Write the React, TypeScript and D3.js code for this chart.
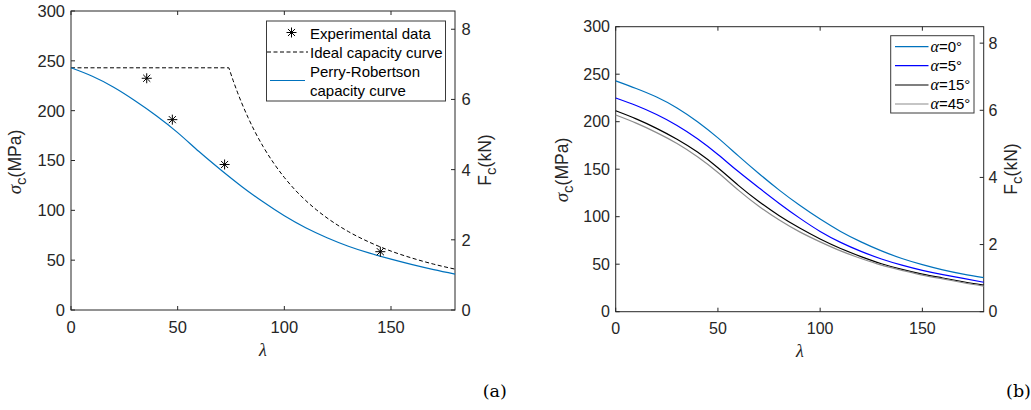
import React from "react";
import * as d3 from "d3";

// ---------- data ----------
const lambdaGrid = [0, 10, 20, 30, 40, 50, 60, 70, 80, 90, 100, 110, 120, 130, 140, 150, 160, 170, 180];

// panel (a)
const prSigma = [243, 234.5, 223.5, 210, 195, 178, 159, 141, 124, 108.5, 94.5, 82.5, 72.5, 64, 57, 51, 45.5, 40.5, 36];
const idealLambda = [0, 74, 76, 78, 80, 83, 86, 90, 95, 100, 105, 110, 115, 120, 130, 140, 150, 160, 170, 180];
const idealSigma = [243, 243, 230.3, 218.6, 207.8, 193.1, 179.8, 164.2, 147.4, 133, 120.6, 109.9, 100.6, 92.4, 78.7, 67.9, 59.1, 52, 46, 41];
const expLambda = [35.5, 47.5, 72, 145];
const expSigma = [232.5, 191, 146, 58.5];

// panel (b)
const alphaLabels = ["0", "5", "15", "45"];
const alpha0 = [243, 235, 226, 214.5, 200, 183, 164, 145.5, 128, 112, 97.5, 84.5, 73.5, 64, 56, 49.5, 44, 39.5, 35.8];
const alpha5 = [225, 217, 207.5, 196, 182, 165.5, 147.5, 130.5, 114, 98.5, 84.5, 73, 63.5, 55.5, 49, 43.5, 39, 35, 31];
const alpha15 = [211.5, 203, 193, 181.5, 168, 151.5, 133, 116, 101, 88, 76.5, 66.5, 58, 50.5, 44.5, 39.5, 35.5, 31.5, 28];
const alpha45 = [207, 198.5, 188.5, 177, 163, 146.5, 128, 111, 96.5, 84, 73.5, 64, 56, 49, 43.5, 38.5, 34.5, 30.5, 27];
const alphaColors = ["#0072BD", "#0000FF", "#000000", "#8C8C8C"];

const xTicks = [0, 50, 100, 150];
const yTicks = [0, 50, 100, 150, 200, 250, 300];
const fTicks = [0, 2, 4, 6, 8];

const SANS = "'Liberation Sans', Arial, Helvetica, sans-serif";
const SERIF = "'Liberation Serif', 'Times New Roman', serif";
const AX = "#262626";

type Box = { x0: number; x1: number; y0: number; y1: number; fMax: number; fs: number; lGap: number; rGap: number };

function Axes({ b, xs, ys, fs }: { b: Box; xs: d3.ScaleLinear<number, number>; ys: d3.ScaleLinear<number, number>; fs: d3.ScaleLinear<number, number> }) {
  const tl = 4;
  return (
    <g>
      <rect x={b.x0} y={b.y0} width={b.x1 - b.x0} height={b.y1 - b.y0} fill="none" stroke={AX} strokeWidth={1} />
      {xTicks.map((t) => (
        <g key={"x" + t}>
          <line x1={xs(t)} x2={xs(t)} y1={b.y1} y2={b.y1 - tl} stroke={AX} />
          <line x1={xs(t)} x2={xs(t)} y1={b.y0} y2={b.y0 + tl} stroke={AX} />
          <text x={xs(t)} y={b.y1 + 22.5} textAnchor="middle" fontFamily={SANS} fontSize={b.fs} fill={AX}>{t}</text>
        </g>
      ))}
      {yTicks.map((t) => (
        <g key={"y" + t}>
          <line x1={b.x0} x2={b.x0 + tl} y1={ys(t)} y2={ys(t)} stroke={AX} />
          <text x={b.x0 - b.lGap} y={ys(t)} dy="0.36em" textAnchor="end" fontFamily={SANS} fontSize={b.fs} fill={AX}>{t}</text>
        </g>
      ))}
      {fTicks.map((t) => (
        <g key={"f" + t}>
          <line x1={b.x1} x2={b.x1 - tl} y1={fs(t)} y2={fs(t)} stroke={AX} />
          <text x={b.x1 + b.rGap} y={fs(t)} dy="0.36em" textAnchor="start" fontFamily={SANS} fontSize={b.fs} fill={AX}>{t}</text>
        </g>
      ))}
    </g>
  );
}

function SigmaLabel({ x, y }: { x: number; y: number }) {
  return (
    <text transform={`translate(${x},${y}) rotate(-90)`} textAnchor="middle" fontFamily={SANS} fontSize={17.5} fill={AX}>
      <tspan fontFamily={SERIF} fontStyle="italic" fontSize={19}>σ</tspan>
      <tspan dy={5} fontSize={15}>c</tspan>
      <tspan dy={-5}>(MPa)</tspan>
    </text>
  );
}

function FLabel({ x, y }: { x: number; y: number }) {
  return (
    <text transform={`translate(${x},${y}) rotate(-90)`} textAnchor="middle" fontFamily={SANS} fontSize={17.5} fill={AX}>
      <tspan>F</tspan>
      <tspan dy={5} fontSize={15}>c</tspan>
      <tspan dy={-5}>(kN)</tspan>
    </text>
  );
}

function starPath(cx: number, cy: number, r: number) {
  const p = d3.path();
  const d = r * 0.7071;
  p.moveTo(cx - r, cy); p.lineTo(cx + r, cy);
  p.moveTo(cx, cy - r); p.lineTo(cx, cy + r);
  p.moveTo(cx - d, cy - d); p.lineTo(cx + d, cy + d);
  p.moveTo(cx - d, cy + d); p.lineTo(cx + d, cy - d);
  return p.toString();
}

function PanelA() {
  const b: Box = { x0: 71, x1: 455, y0: 11, y1: 310, fMax: 8.52, fs: 16.5, lGap: 6, rGap: 6.5 };
  const xs = d3.scaleLinear().domain([0, 180]).range([b.x0, b.x1]);
  const ys = d3.scaleLinear().domain([0, 300]).range([b.y1, b.y0]);
  const fs = d3.scaleLinear().domain([0, b.fMax]).range([b.y1, b.y0]);
  const pr = d3.line<number>().x((_, i) => xs(lambdaGrid[i])).y((d) => ys(d)).curve(d3.curveNatural)(prSigma) || "";
  const flatIdx = [0, 1];
  const flat = d3.line<number>().x((i) => xs(idealLambda[i])).y((i) => ys(idealSigma[i]))(flatIdx) || "";
  const decayIdx = idealLambda.map((_, i) => i).slice(1);
  const decay = (d3.line<number>().x((i) => xs(idealLambda[i])).y((i) => ys(idealSigma[i])).curve(d3.curveMonotoneX)(decayIdx) || "").replace(/^M/, "L");
  return (
    <g>
      <Axes b={b} xs={xs} ys={ys} fs={fs} />
      <path d={flat + decay} fill="none" stroke="#000" strokeWidth={1} strokeDasharray="4,2.5" />
      <path d={pr} fill="none" stroke="#0072BD" strokeWidth={1.2} />
      {expLambda.map((l, i) => (
        <path key={i} d={starPath(xs(l), ys(expSigma[i]), 5)} stroke="#000" strokeWidth={1} fill="none" />
      ))}
      {/* legend */}
      <rect x={266.5} y={21} width={179} height={80} fill="#fff" stroke="#3a3a3a" strokeWidth={1} />
      <path d={starPath(291.5, 32.5, 5)} stroke="#000" strokeWidth={1} fill="none" />
      <line x1={267} x2={308} y1={52} y2={52} stroke="#000" strokeWidth={1} strokeDasharray="4,2.5" />
      <line x1={270} x2={305} y1={80.5} y2={80.5} stroke="#0072BD" strokeWidth={1.2} />
      <g fontFamily={SANS} fontSize={15} fill="#000">
        <text x={310} y={38.5}>Experimental data</text>
        <text x={310} y={57.5}>Ideal capacity curve</text>
        <text x={310} y={77}>Perry-Robertson</text>
        <text x={310} y={96}>capacity curve</text>
      </g>
      <SigmaLabel x={21} y={162} />
      <FLabel x={491} y={160} />
      <text x={263} y={356} textAnchor="middle" fontFamily={SERIF} fontStyle="italic" fontSize={18} fill={AX}>λ</text>
      <text x={494.7} y={397} textAnchor="middle" fontFamily="'DejaVu Serif', serif" fontSize={17.5} fill="#000">(a)</text>
    </g>
  );
}

function PanelB() {
  const b: Box = { x0: 615.7, x1: 983.7, y0: 26.7, y1: 311.7, fMax: 8.49, fs: 16, lGap: 5.7, rGap: 4.7 };
  const xs = d3.scaleLinear().domain([0, 180]).range([b.x0, b.x1]);
  const ys = d3.scaleLinear().domain([0, 300]).range([b.y1, b.y0]);
  const fs = d3.scaleLinear().domain([0, b.fMax]).range([b.y1, b.y0]);
  const series = [alpha0, alpha5, alpha15, alpha45];
  const line = d3.line<number>().x((_, i) => xs(lambdaGrid[i])).y((d) => ys(d)).curve(d3.curveNatural);
  const rowY = [46.7, 65.7, 85, 104];
  return (
    <g>
      <Axes b={b} xs={xs} ys={ys} fs={fs} />
      {series.map((s, k) => (
        <path key={k} d={line(s) || ""} fill="none" stroke={alphaColors[k]} strokeWidth={1.2} />
      ))}
      <rect x={890.7} y={35.7} width={83.3} height={77.3} fill="#fff" stroke="#3a3a3a" strokeWidth={1} />
      {alphaLabels.map((a, k) => (
        <g key={a}>
          <line x1={895} x2={928.5} y1={rowY[k]} y2={rowY[k]} stroke={alphaColors[k]} strokeWidth={1.2} />
          <text x={930.5} y={rowY[k] + 5} fontFamily={SANS} fontSize={15} fill="#000">
            <tspan fontFamily={SERIF} fontStyle="italic" fontSize={16}>α</tspan>
            <tspan>={a}°</tspan>
          </text>
        </g>
      ))}
      <SigmaLabel x={568} y={170} />
      <FLabel x={1017} y={169} />
      <text x={800} y={357} textAnchor="middle" fontFamily={SERIF} fontStyle="italic" fontSize={18} fill={AX}>λ</text>
      <text x={1018.5} y={397} textAnchor="middle" fontFamily="'DejaVu Serif', serif" fontSize={17.5} fill="#000">(b)</text>
    </g>
  );
}

export default function App() {
  return (
    <svg
      width={1031}
      height={410}
      viewBox="0 0 1031 410"
      style={{ position: "absolute", left: 0, top: 0, background: "#fff" }}
    >
      <rect x={0} y={0} width={1031} height={410} fill="#fff" />
      <PanelA />
      <PanelB />
    </svg>
  );
}
